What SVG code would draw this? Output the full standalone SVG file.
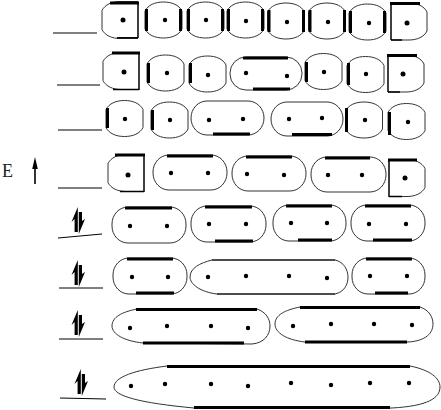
<svg xmlns="http://www.w3.org/2000/svg" width="441" height="410" viewBox="0 0 441 410">
<style>
.o{fill:none;stroke:#333;stroke-width:1}
.e{fill:none;stroke:#000;stroke-width:1.5}
.b{fill:none;stroke:#000;stroke-width:3}
.l{fill:none;stroke:#000;stroke-width:1}
.d{fill:#000}
</style>
<defs>
<g id="spin">
<path d="M5.8,0 L5.8,25 L2.6,25 L2.6,12 L-0.5,15 Z" fill="#000"/>
<path d="M6.8,27 L6.8,5 L10,5 L10,14 L13,12 Z" fill="#000"/>
</g>
<path id="cell" class="o" d="M0,9 C3,3 10,0 18.5,0 C27,0 34,3 37,9 L37,27 C34,33 27,36 18.5,36 C10,36 3,33 0,27 Z"/>
<path id="halfL" class="o" d="M36,0 L18,0 C10,0 3,3 0,9 L0,28 C3,34 10,37 18,37 L36,37"/>
<path id="halfR" class="o" d="M0,0 L18,0 C26,0 33,3 36,9 L36,28 C33,34 26,37 18,37 L0,37"/>
</defs>
<rect width="441" height="410" fill="#fff"/>

<g id="axis">
<text x="2" y="177" font-family="Liberation Serif, serif" font-size="18" fill="#222">E</text>
<line x1="35" y1="184" x2="35" y2="165" stroke="#000" stroke-width="1.6"/>
<path d="M35,157 L37.8,169 L32.2,169 Z" fill="#000"/>
</g>

<g id="levels">
<line class="l" x1="53" y1="33" x2="97" y2="33"/>
<line class="l" x1="57" y1="85" x2="100" y2="85"/>
<line class="l" x1="58" y1="130" x2="102" y2="130"/>
<line class="l" x1="58" y1="188" x2="102" y2="188"/>
<line class="l" x1="58" y1="238" x2="102" y2="234"/>
<line class="l" x1="59" y1="288" x2="103" y2="288"/>
<line class="l" x1="59" y1="339" x2="103" y2="339"/>
<line class="l" x1="60" y1="398" x2="106" y2="399"/>
<use href="#spin" x="72" y="207"/>
<use href="#spin" x="72" y="260"/>
<use href="#spin" x="72" y="310"/>
<use href="#spin" x="75" y="369"/>
</g>

<!-- Row 1 -->
<g id="r1c1">
<use href="#halfL" x="102" y="1.5"/>
<line class="e" x1="138" y1="2" x2="138" y2="38"/>
<line class="b" x1="110" y1="3" x2="139" y2="3"/>
<line class="e" x1="117" y1="37.8" x2="138" y2="37.8" stroke-width="2.2"/>
<circle class="d" cx="123" cy="20" r="2.5"/>
</g>
<g id="r1c2"><use href="#cell" x="145" y="2"/><line class="b" x1="146.5" y1="9" x2="146.5" y2="31"/><line class="b" x1="180.5" y1="9" x2="180.5" y2="31"/><circle class="d" cx="165" cy="20" r="2.2"/></g>
<g id="r1c3"><use href="#cell" x="187" y="2"/><line class="b" x1="188.5" y1="9" x2="188.5" y2="31"/><line class="b" x1="222.5" y1="9" x2="222.5" y2="31"/><circle class="d" cx="206" cy="20" r="2.2"/></g>
<g id="r1c4"><use href="#cell" x="227" y="2"/><line class="b" x1="228.5" y1="9" x2="228.5" y2="31"/><line class="b" x1="262.5" y1="9" x2="262.5" y2="31"/><circle class="d" cx="246" cy="21" r="2.2"/></g>
<g id="r1c5"><use href="#cell" x="267.5" y="3"/><line class="b" x1="269" y1="10" x2="269" y2="32"/><line class="b" x1="303.5" y1="10" x2="303.5" y2="32"/><circle class="d" cx="287" cy="22" r="2.2"/></g>
<g id="r1c6"><use href="#cell" x="308.5" y="3"/><line class="b" x1="310" y1="10" x2="310" y2="32"/><line class="b" x1="344.5" y1="10" x2="344.5" y2="32"/><circle class="d" cx="328" cy="22" r="2.2"/></g>
<g id="r1c7"><use href="#cell" x="349" y="4"/><line class="b" x1="350.5" y1="11" x2="350.5" y2="33"/><line class="b" x1="384.5" y1="11" x2="384.5" y2="33"/><circle class="d" cx="369" cy="23" r="2.2"/></g>
<g id="r1c8">
<use href="#halfR" x="391" y="3"/>
<line class="e" x1="391" y1="3" x2="391" y2="40"/>
<line class="e" x1="391" y1="40" x2="402" y2="40" stroke-width="1"/>
<line class="b" x1="390" y1="3.5" x2="420" y2="3.5"/>
<circle class="d" cx="407" cy="23" r="2.5"/>
</g>

<!-- Row 2 -->
<g id="r2c1">
<use href="#halfL" x="103" y="52.5"/>
<line class="e" x1="139" y1="52" x2="139" y2="90"/>
<line class="b" x1="112" y1="53" x2="140" y2="53"/>
<line class="e" x1="113" y1="89.5" x2="139" y2="89.5"/>
<circle class="d" cx="124" cy="72" r="2.5"/>
</g>
<g id="r2c2"><use href="#cell" x="147" y="55"/><line class="b" x1="148.5" y1="63" x2="148.5" y2="83"/><circle class="d" cx="167" cy="73" r="2.2"/></g>
<g id="r2c3"><use href="#cell" x="189" y="56"/><line class="b" x1="190.5" y1="63" x2="190.5" y2="83"/><circle class="d" cx="208" cy="75" r="2.2"/></g>
<g id="r2c4"><rect class="o" x="230" y="57" width="72" height="33" rx="16" ry="16"/><line class="b" x1="243" y1="58" x2="288" y2="58"/><line class="b" x1="253" y1="89" x2="290" y2="89"/><circle class="d" cx="246" cy="73" r="2.2"/><circle class="d" cx="287" cy="76" r="2.2"/></g>
<g id="r2c5"><use href="#cell" x="305" y="53.5"/><line class="b" x1="306.5" y1="62" x2="306.5" y2="82"/><circle class="d" cx="324" cy="72" r="2.2"/></g>
<g id="r2c6"><use href="#cell" x="347" y="56.5"/><line class="b" x1="348.5" y1="63" x2="348.5" y2="85"/><circle class="d" cx="366" cy="74" r="2.2"/></g>
<g id="r2c7">
<use href="#halfR" x="388" y="55"/>
<line class="e" x1="388" y1="55" x2="388" y2="92"/>
<line class="e" x1="388" y1="92" x2="400" y2="92" stroke-width="1"/>
<line class="b" x1="387" y1="55.5" x2="417" y2="55.5"/>
<circle class="d" cx="403" cy="74" r="2.5"/>
</g>

<!-- Row 3 -->
<g id="r3c1"><use href="#cell" x="106" y="100.5"/><line class="b" x1="107.5" y1="108" x2="107.5" y2="128"/><circle class="d" cx="125" cy="119" r="2.2"/></g>
<g id="r3c2"><use href="#cell" x="151" y="102"/><line class="b" x1="152.5" y1="110" x2="152.5" y2="130"/><circle class="d" cx="170" cy="120" r="2.2"/></g>
<g id="r3c3"><rect class="o" x="191" y="101" width="73" height="34" rx="16" ry="17"/><line class="b" x1="213" y1="134" x2="250" y2="134"/><circle class="d" cx="209" cy="120" r="2.2"/><circle class="d" cx="243" cy="119" r="2.2"/></g>
<g id="r3c4"><rect class="o" x="271" y="102" width="72" height="34" rx="16" ry="17"/><line class="b" x1="292" y1="134.5" x2="332" y2="134.5"/><circle class="d" cx="289" cy="119" r="2.2"/><circle class="d" cx="322" cy="118" r="2.2"/></g>
<g id="r3c5"><use href="#cell" x="345.5" y="102"/><line class="b" x1="346.5" y1="108" x2="346.5" y2="132"/><circle class="d" cx="365" cy="120" r="2.2"/></g>
<g id="r3c6"><use href="#cell" x="388" y="103.5"/><line class="b" x1="389.5" y1="112" x2="389.5" y2="135"/><circle class="d" cx="408" cy="122" r="2.2"/></g>

<!-- Row 4 -->
<g id="r4c1">
<use href="#halfL" x="108" y="154.5"/>
<line class="e" x1="144" y1="154" x2="144" y2="192" stroke-width="2"/>
<line class="b" x1="115" y1="155" x2="145" y2="155"/>
<line class="e" x1="120" y1="191.5" x2="144" y2="191.5"/>
<circle class="d" cx="128" cy="175" r="2.5"/>
</g>
<g id="r4c2"><rect class="o" x="153" y="155" width="74" height="35" rx="16" ry="17"/><line class="b" x1="167" y1="156" x2="213" y2="156"/><circle class="d" cx="171" cy="173" r="2.2"/><circle class="d" cx="208" cy="173" r="2.2"/></g>
<g id="r4c3"><rect class="o" x="232" y="156" width="74" height="35" rx="16" ry="17"/><line class="b" x1="246" y1="157" x2="292" y2="157"/><circle class="d" cx="247" cy="174" r="2.2"/><circle class="d" cx="284" cy="175" r="2.2"/></g>
<g id="r4c4"><rect class="o" x="311" y="157" width="75" height="35" rx="16" ry="17"/><line class="b" x1="325" y1="158" x2="370" y2="158"/><circle class="d" cx="328" cy="175" r="2.2"/><circle class="d" cx="362" cy="175" r="2.2"/></g>
<g id="r4c5">
<use href="#halfR" x="389" y="159.5"/>
<line class="e" x1="389" y1="159" x2="389" y2="197"/>
<line class="e" x1="389" y1="196.5" x2="402" y2="196.5" stroke-width="1"/>
<line class="b" x1="388" y1="160" x2="417" y2="160"/>
<circle class="d" cx="405" cy="178" r="2.5"/>
</g>

<!-- Row 5 -->
<g id="r5c1"><rect class="o" x="112" y="207" width="74" height="36" rx="16" ry="17"/><line class="b" x1="125" y1="208" x2="172" y2="208"/><circle class="d" cx="130" cy="226" r="2.2"/><circle class="d" cx="167" cy="226" r="2.2"/></g>
<g id="r5c2"><rect class="o" x="191" y="206" width="75" height="36" rx="16" ry="17"/><line class="b" x1="205" y1="207" x2="252" y2="207"/><line class="b" x1="215" y1="241" x2="253" y2="241"/><circle class="d" cx="209" cy="224" r="2.2"/><circle class="d" cx="246" cy="224" r="2.2"/></g>
<g id="r5c3"><rect class="o" x="273" y="205" width="73" height="36" rx="16" ry="17"/><line class="b" x1="286" y1="206" x2="332" y2="206"/><line class="b" x1="298" y1="240" x2="332" y2="240"/><circle class="d" cx="291" cy="223" r="2.2"/><circle class="d" cx="327" cy="223" r="2.2"/></g>
<g id="r5c4"><rect class="o" x="351" y="205" width="74" height="36" rx="16" ry="17"/><line class="b" x1="365" y1="206" x2="411" y2="206"/><line class="b" x1="373" y1="240" x2="412" y2="240"/><circle class="d" cx="369" cy="224" r="2.2"/><circle class="d" cx="406" cy="224" r="2.2"/></g>

<!-- Row 6 -->
<g id="r6c1"><rect class="o" x="113" y="258" width="74" height="36" rx="16" ry="17"/><line class="b" x1="127" y1="259" x2="173" y2="259"/><line class="b" x1="136" y1="293" x2="174" y2="293"/><circle class="d" cx="132" cy="277" r="2.2"/><circle class="d" cx="168" cy="277" r="2.2"/></g>
<g id="r6c2"><path class="o" d="M212,260 L335,260 C344,262 348,270 348,277 C348,285 344,292 335,294 L217,294 C200,292 190,284 190,277 C190,268 200,263 212,260 Z"/><line class="l" x1="212" y1="260" x2="335" y2="260"/><line class="l" x1="217" y1="294" x2="335" y2="294"/><circle class="d" cx="208" cy="277" r="2.2"/><circle class="d" cx="246" cy="276" r="2.2"/><circle class="d" cx="289" cy="276" r="2.2"/><circle class="d" cx="327" cy="278" r="2.2"/></g>
<g id="r6c3"><rect class="o" x="352" y="258" width="73" height="36" rx="16" ry="17"/><line class="b" x1="366" y1="259" x2="412" y2="259"/><line class="b" x1="375" y1="293" x2="408" y2="293"/><circle class="d" cx="370" cy="276" r="2.2"/><circle class="d" cx="407" cy="276" r="2.2"/></g>

<!-- Row 7 -->
<g id="r7c1"><path class="o" d="M137,309 L257,309 C266,312 270,319 270,326 C270,335 264,343 252,344 L143,343 C124,341 112,334 112,326 C112,317 122,312 137,309 Z"/><line class="b" x1="136" y1="309.5" x2="257" y2="309.5"/><line class="b" x1="143" y1="343" x2="244" y2="343"/><circle class="d" cx="130" cy="328" r="2.2"/><circle class="d" cx="167" cy="326" r="2.2"/><circle class="d" cx="211" cy="326" r="2.2"/><circle class="d" cx="248" cy="328" r="2.2"/></g>
<g id="r7c2"><path class="o" d="M300,307 L420,307 C429,310 433,317 433,324 C433,333 426,341 408,342 L305,342 C287,340 275,333 275,324 C275,315 285,310 300,307 Z"/><line class="b" x1="300" y1="307.5" x2="420" y2="307.5"/><line class="b" x1="305" y1="342" x2="407" y2="342"/><circle class="d" cx="293" cy="326" r="2.2"/><circle class="d" cx="331" cy="324" r="2.2"/><circle class="d" cx="374" cy="324" r="2.2"/><circle class="d" cx="412" cy="325" r="2.2"/></g>

<!-- Row 8 -->
<g id="r8c1"><path class="o" d="M167,366 L410,366 C430,370 440,378 440,387 C440,398 428,406 392,408 L194,408 C140,403 114,396 114,387 C114,377 135,370 167,366 Z"/><line class="b" x1="167" y1="366.5" x2="410" y2="366.5"/><line class="b" x1="194" y1="407.5" x2="390" y2="407.5"/><circle class="d" cx="131" cy="386" r="2.2"/><circle class="d" cx="165" cy="384" r="2.2"/><circle class="d" cx="211" cy="384" r="2.2"/><circle class="d" cx="248" cy="386" r="2.2"/><circle class="d" cx="291" cy="383" r="2.2"/><circle class="d" cx="331" cy="385" r="2.2"/><circle class="d" cx="370" cy="383" r="2.2"/><circle class="d" cx="409" cy="383" r="2.2"/></g>
</svg>
